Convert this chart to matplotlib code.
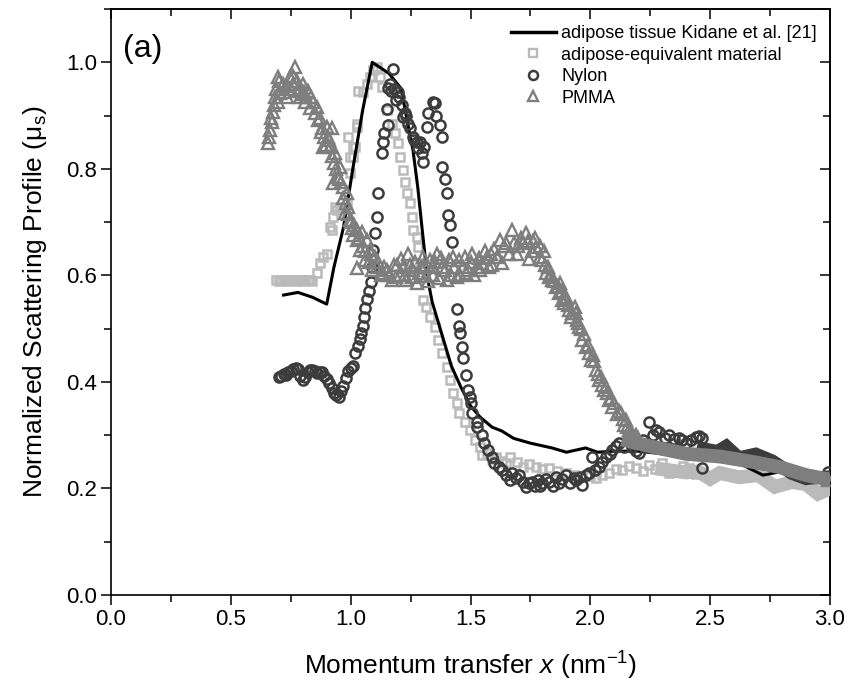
import matplotlib
matplotlib.use("Agg")

import matplotlib.pyplot as plt
from matplotlib.lines import Line2D
from matplotlib.ticker import MultipleLocator, NullFormatter

plt.rcParams["font.family"] = ["Liberation Sans", "DejaVu Sans"]
plt.rcParams["mathtext.fontset"] = "custom"
plt.rcParams["mathtext.rm"] = "Liberation Sans"
plt.rcParams["mathtext.it"] = "Liberation Sans:italic"

# ---------------------------------------------------
# DATA
# ---------------------------------------------------

kidane_x = [0.72, 0.78, 0.84, 0.90, 0.93, 0.97, 1.01, 1.05, 1.09, 1.16,
            1.21, 1.23, 1.26, 1.28, 1.30, 1.32, 1.34, 1.42, 1.46, 1.50,
            1.54, 1.59, 1.63, 1.68, 1.75, 1.84, 1.90, 1.98, 2.03, 2.10,
            2.20, 2.30, 2.40, 2.50, 2.60, 2.72, 2.80, 2.90, 3.00]
kidane_y = [0.563, 0.568, 0.559, 0.546, 0.615, 0.690, 0.803, 0.910, 1.000, 0.979,
            0.951, 0.904, 0.835, 0.765, 0.679, 0.597, 0.550, 0.430, 0.390, 0.355,
            0.334, 0.315, 0.308, 0.294, 0.285, 0.276, 0.268, 0.276, 0.268, 0.270,
            0.270, 0.265, 0.262, 0.258, 0.252, 0.225, 0.232, 0.228, 0.222]

adipose_x = [0.69, 0.70, 0.71, 0.72, 0.73, 0.74, 0.75, 0.76, 0.77, 0.78,
             0.79, 0.80, 0.81, 0.82, 0.83, 0.84, 0.858, 0.871, 0.883, 0.90,
             0.913, 0.921, 0.925, 0.933, 0.942, 0.954, 0.983, 0.988, 0.996, 0.996,
             1.008, 1.008, 1.017, 1.025, 1.025, 1.029, 1.05, 1.067, 1.079, 1.092,
             1.108, 1.121, 1.129, 1.15, 1.171, 1.183, 1.196, 1.204, 1.217, 1.225,
             1.233, 1.246, 1.254, 1.258, 1.275, 1.279, 1.288, 1.296, 1.30, 1.313,
             1.329, 1.35, 1.363, 1.383, 1.40, 1.413, 1.425, 1.442, 1.454, 1.475,
             1.496, 1.517, 1.538, 1.55, 1.567, 1.59, 1.608, 1.63, 1.65, 1.663,
             1.692, 1.717, 1.745, 1.775, 1.80, 1.829, 1.86, 1.90, 1.93, 1.967,
             2.00, 2.025, 2.05, 2.079, 2.105, 2.133, 2.16, 2.192, 2.22, 2.246,
             2.27, 2.30, 2.33, 2.358, 2.385, 2.413, 2.44, 2.467]
adipose_y = [0.591, 0.590, 0.592, 0.591, 0.590, 0.591, 0.592, 0.591, 0.590, 0.591,
             0.592, 0.590, 0.591, 0.591, 0.592, 0.590, 0.604, 0.623, 0.634, 0.641,
             0.690, 0.685, 0.709, 0.728, 0.722, 0.728, 0.735, 0.860, 0.792, 0.822,
             0.822, 0.841, 0.841, 0.878, 0.885, 0.947, 0.944, 0.960, 0.972, 0.985,
             0.991, 0.972, 0.953, 0.910, 0.885, 0.867, 0.848, 0.822, 0.797, 0.775,
             0.754, 0.735, 0.709, 0.685, 0.672, 0.653, 0.623, 0.597, 0.553, 0.540,
             0.522, 0.503, 0.478, 0.454, 0.428, 0.403, 0.379, 0.360, 0.341, 0.325,
             0.310, 0.291, 0.278, 0.262, 0.266, 0.255, 0.259, 0.252, 0.248, 0.259,
             0.250, 0.240, 0.245, 0.240, 0.236, 0.238, 0.232, 0.229, 0.226, 0.221,
             0.224, 0.219, 0.226, 0.229, 0.236, 0.235, 0.242, 0.238, 0.232, 0.244,
             0.236, 0.248, 0.229, 0.235, 0.242, 0.238, 0.228, 0.231]

nylon_x = [0.70, 0.71, 0.72, 0.73, 0.74, 0.75, 0.76, 0.77, 0.78, 0.79,
           0.80, 0.81, 0.82, 0.83, 0.84, 0.85, 0.86, 0.87, 0.88, 0.89,
           0.90, 0.91, 0.92, 0.93, 0.94, 0.95, 0.96, 0.97, 0.98, 0.99,
           1.00, 1.01, 1.02, 1.03, 1.04, 1.045, 1.05, 1.055, 1.06, 1.07,
           1.075, 1.085, 1.09, 1.095, 1.10, 1.108, 1.113, 1.129, 1.133, 1.14,
           1.15, 1.155, 1.155, 1.17, 1.175, 1.19, 1.196, 1.213, 1.217, 1.23,
           1.246, 1.258, 1.275, 1.288, 1.296, 1.30, 1.308, 1.317, 1.321, 1.342,
           1.35, 1.358, 1.371, 1.379, 1.383, 1.392, 1.40, 1.404, 1.413, 1.421,
           1.442, 1.450, 1.458, 1.463, 1.467, 1.483, 1.488, 1.496, 1.504, 1.508,
           1.525, 1.529, 1.546, 1.558, 1.571, 1.588, 1.60, 1.62, 1.633, 1.65,
           1.663, 1.675, 1.69, 1.704, 1.72, 1.733, 1.745, 1.758, 1.77, 1.78,
           1.79, 1.80, 1.815, 1.829, 1.845, 1.858, 1.87, 1.88, 1.90, 1.915,
           1.93, 1.942, 1.955, 1.967, 1.98, 1.996, 2.008, 2.02, 2.038, 2.05,
           2.067, 2.08, 2.092, 2.105, 2.121, 2.142, 2.16, 2.175, 2.19, 2.204,
           2.22, 2.246, 2.26, 2.275, 2.288, 2.31, 2.329, 2.35, 2.37, 2.383,
           2.40, 2.42, 2.442, 2.455, 2.467, 2.467, 2.99, 1.165, 1.18, 1.20,
           1.225, 1.24, 1.265, 1.28]
nylon_y = [0.410, 0.412, 0.415, 0.413, 0.418, 0.420, 0.424, 0.426, 0.425, 0.412,
           0.403, 0.410, 0.418, 0.422, 0.423, 0.420, 0.416, 0.418, 0.419, 0.412,
           0.405, 0.398, 0.388, 0.380, 0.375, 0.372, 0.383, 0.393, 0.408, 0.420,
           0.427, 0.430, 0.455, 0.468, 0.480, 0.492, 0.505, 0.522, 0.538, 0.555,
           0.570, 0.588, 0.615, 0.647, 0.680, 0.709, 0.754, 0.829, 0.850, 0.867,
           0.913, 0.882, 0.951, 0.947, 0.988, 0.930, 0.944, 0.920, 0.897, 0.900,
           0.876, 0.860, 0.850, 0.850, 0.830, 0.812, 0.841, 0.878, 0.904, 0.925,
           0.923, 0.900, 0.882, 0.860, 0.803, 0.780, 0.754, 0.713, 0.694, 0.662,
           0.537, 0.505, 0.492, 0.466, 0.445, 0.413, 0.385, 0.372, 0.360, 0.341,
           0.325, 0.315, 0.300, 0.285, 0.272, 0.259, 0.248, 0.240, 0.235, 0.225,
           0.215, 0.229, 0.220, 0.225, 0.212, 0.203, 0.210, 0.212, 0.205, 0.215,
           0.205, 0.210, 0.218, 0.212, 0.205, 0.221, 0.210, 0.218, 0.225, 0.210,
           0.220, 0.216, 0.222, 0.206, 0.225, 0.229, 0.259, 0.235, 0.240, 0.250,
           0.259, 0.265, 0.272, 0.280, 0.285, 0.278, 0.290, 0.278, 0.270, 0.266,
           0.290, 0.325, 0.300, 0.310, 0.306, 0.295, 0.300, 0.292, 0.295, 0.291,
           0.285, 0.290, 0.296, 0.298, 0.295, 0.238, 0.231, 0.960, 0.950, 0.935,
           0.905, 0.885, 0.855, 0.840]

pmma_x = [0.654, 0.663, 0.671, 0.675, 0.685, 0.696, 0.704, 0.696, 0.717, 0.73,
          0.746, 0.758, 0.767, 0.779, 0.79, 0.80, 0.81, 0.821, 0.842, 0.858,
          0.863, 0.879, 0.883, 0.90, 0.904, 0.913, 0.921, 0.925, 0.933, 0.946,
          0.954, 0.967, 0.975, 0.983, 0.988, 0.996, 1.004, 1.025, 1.025, 1.025,
          1.038, 1.046, 1.058, 1.067, 1.079, 1.10, 1.108, 1.133, 1.15, 1.171,
          1.19, 1.21, 1.225, 1.24, 1.255, 1.27, 1.285, 1.30, 1.315, 1.329,
          1.345, 1.36, 1.383, 1.40, 1.425, 1.442, 1.467, 1.483, 1.508, 1.525,
          1.55, 1.567, 1.579, 1.60, 1.621, 1.633, 1.65, 1.675, 1.692, 1.71,
          1.733, 1.746, 1.76, 1.775, 1.788, 1.80, 1.817, 1.829, 1.842, 1.858,
          1.871, 1.88, 1.883, 1.892, 1.90, 1.913, 1.921, 1.935, 1.946, 1.954,
          1.96, 1.967, 1.983, 1.99, 2.004, 2.01, 2.025, 2.038, 2.045, 2.058,
          2.07, 2.079, 2.092, 2.10, 2.11, 2.129, 2.14, 2.15, 2.163, 2.18,
          2.20, 2.99,
          0.66, 0.668, 0.68, 0.69, 0.70, 0.72, 0.735, 0.75, 0.76, 0.775,
          0.785, 0.795, 0.805, 0.815, 0.83, 0.835, 0.85, 0.87, 0.875, 0.89,
          0.895, 0.91, 0.92, 0.93, 0.94, 0.95, 0.96, 0.97, 0.98, 0.99,
          1.00, 1.01, 1.015, 1.035, 1.05, 1.06, 1.075, 1.085, 1.09, 1.115,
          1.125, 1.14, 1.16, 1.18, 1.195, 1.205, 1.218, 1.232, 1.248, 1.262,
          1.278, 1.292, 1.308, 1.322, 1.338, 1.352, 1.368, 1.375, 1.392, 1.41,
          1.418, 1.433, 1.45, 1.458, 1.475, 1.49, 1.50, 1.515, 1.535, 1.54,
          1.56, 1.585, 1.59, 1.61, 1.64, 1.66, 1.68, 1.70, 1.72, 1.74,
          1.755, 1.77, 1.79, 1.805, 1.81, 1.825, 1.835, 1.85, 1.865, 1.875,
          1.895, 1.905, 1.925, 1.94, 1.95, 1.975, 1.995, 2.015, 2.03, 2.05,
          2.065, 2.085, 2.12, 2.135, 2.155, 2.17, 2.19]
pmma_y = [0.848, 0.872, 0.887, 0.906, 0.935, 0.925, 0.942, 0.972, 0.960, 0.955,
          0.972, 0.960, 0.991, 0.947, 0.935, 0.960, 0.925, 0.947, 0.925, 0.916,
          0.891, 0.876, 0.841, 0.878, 0.860, 0.841, 0.876, 0.773, 0.829, 0.784,
          0.803, 0.765, 0.717, 0.754, 0.728, 0.704, 0.688, 0.685, 0.666, 0.613,
          0.647, 0.681, 0.629, 0.666, 0.647, 0.634, 0.615, 0.604, 0.610, 0.591,
          0.597, 0.630, 0.600, 0.640, 0.596, 0.625, 0.605, 0.635, 0.598, 0.629,
          0.600, 0.640, 0.615, 0.591, 0.634, 0.597, 0.615, 0.604, 0.641, 0.615,
          0.623, 0.634, 0.615, 0.650, 0.666, 0.623, 0.660, 0.685, 0.640, 0.670,
          0.679, 0.630, 0.665, 0.653, 0.634, 0.629, 0.604, 0.597, 0.591, 0.578,
          0.566, 0.570, 0.553, 0.548, 0.560, 0.535, 0.522, 0.540, 0.516, 0.503,
          0.500, 0.478, 0.466, 0.470, 0.441, 0.450, 0.422, 0.403, 0.410, 0.385,
          0.380, 0.366, 0.353, 0.360, 0.340, 0.341, 0.320, 0.328, 0.310, 0.300,
          0.295, 0.215,
          0.860, 0.895, 0.920, 0.950, 0.965, 0.945, 0.935, 0.950, 0.975, 0.965,
          0.950, 0.940, 0.945, 0.935, 0.915, 0.935, 0.905, 0.895, 0.870, 0.860,
          0.845, 0.855, 0.825, 0.810, 0.800, 0.780, 0.775, 0.745, 0.735, 0.715,
          0.700, 0.675, 0.695, 0.670, 0.655, 0.645, 0.625, 0.640, 0.610, 0.625,
          0.600, 0.615, 0.600, 0.620, 0.620, 0.600, 0.615, 0.592, 0.620, 0.610,
          0.585, 0.615, 0.620, 0.590, 0.615, 0.625, 0.595, 0.632, 0.610, 0.628,
          0.600, 0.615, 0.628, 0.600, 0.635, 0.610, 0.625, 0.600, 0.632, 0.610,
          0.645, 0.640, 0.620, 0.635, 0.655, 0.640, 0.660, 0.655, 0.660, 0.665,
          0.645, 0.670, 0.655, 0.645, 0.620, 0.615, 0.600, 0.590, 0.580, 0.585,
          0.555, 0.545, 0.530, 0.530, 0.510, 0.490, 0.455, 0.440, 0.415, 0.395,
          0.390, 0.370, 0.345, 0.330, 0.315, 0.305, 0.300]

# dense high-x parts that merge into solid bands
adipose_band_x = [2.30, 2.40, 2.45, 2.50, 2.54, 2.62, 2.70, 2.77, 2.84, 2.90, 2.95, 3.00]
adipose_band_y = [0.236, 0.230, 0.232, 0.218, 0.229, 0.221, 0.225, 0.203, 0.212, 0.208, 0.190, 0.200]
nylon_band_x = [2.47, 2.53, 2.567, 2.62, 2.69, 2.76, 2.84, 2.90, 2.99]
nylon_band_y = [0.275, 0.270, 0.280, 0.258, 0.265, 0.252, 0.228, 0.218, 0.222]
pmma_band_x = [2.16, 2.26, 2.40, 2.54, 2.675, 2.79, 2.90, 2.98]
pmma_band_y = [0.289, 0.278, 0.265, 0.260, 0.250, 0.240, 0.225, 0.218]

labels = ["adipose tissue Kidane et al. [21]", "adipose-equivalent material",
          "Nylon", "PMMA"]

c_light = "#bababa"
c_dark = "#3c3c3c"
c_mid = "#7e7e7e"

# ---------------------------------------------------
# FIGURE
# ---------------------------------------------------

fig = plt.figure(figsize=(8.48, 6.88), dpi=100)
ax = fig.add_axes([0.1309, 0.1352, 0.8479, 0.8517])

ax.plot(adipose_x, adipose_y, ls="none", marker="s", ms=6.3, mfc="none",
        mec=c_light, mew=1.8, zorder=3)
ax.plot(adipose_band_x, adipose_band_y, color=c_light, lw=10,
        solid_joinstyle="miter", zorder=3.1)
ax.plot(kidane_x, kidane_y, color="black", lw=2.2, zorder=3.2)
ax.plot(nylon_x, nylon_y, ls="none", marker="o", ms=7.3, mfc="none",
        mec=c_dark, mew=1.8, zorder=4)
ax.plot(nylon_band_x, nylon_band_y, color=c_dark, lw=9,
        solid_joinstyle="miter", zorder=4.1)
ax.plot(pmma_x, pmma_y, ls="none", marker="^", ms=8.3, mfc="none",
        mec=c_mid, mew=1.7, zorder=5)
ax.plot(pmma_band_x, pmma_band_y, color=c_mid, lw=10,
        solid_joinstyle="miter", zorder=5.1)

ax.set_xlim(0, 3.0)
ax.set_ylim(0, 1.1)

ax.xaxis.set_major_locator(MultipleLocator(0.5))
ax.xaxis.set_minor_locator(MultipleLocator(0.25))
ax.yaxis.set_major_locator(MultipleLocator(0.2))
ax.yaxis.set_minor_locator(MultipleLocator(0.1))
ax.tick_params(which="both", direction="out", width=1.1, labelsize=16, pad=3)
ax.tick_params(which="major", length=7)
ax.tick_params(which="minor", length=5)

# mirrored ticks pointing inwards on top and right
top = ax.secondary_xaxis("top")
top.xaxis.set_major_locator(MultipleLocator(0.5))
top.xaxis.set_minor_locator(MultipleLocator(0.25))
top.xaxis.set_major_formatter(NullFormatter())
top.tick_params(which="both", direction="in", width=1.1)
top.tick_params(which="major", length=7)
top.tick_params(which="minor", length=5)
right = ax.secondary_yaxis("right")
right.yaxis.set_major_locator(MultipleLocator(0.2))
right.yaxis.set_minor_locator(MultipleLocator(0.1))
right.yaxis.set_major_formatter(NullFormatter())
right.tick_params(which="both", direction="in", width=1.1)
right.tick_params(which="major", length=7)
right.tick_params(which="minor", length=5)

for sp in list(ax.spines.values()) + [top.spines["top"], right.spines["right"]]:
    sp.set_linewidth(1.2)

ax.set_xlabel("Momentum transfer $x$ (nm$^{-1}$)", fontsize=19, labelpad=14)
ax.set_ylabel("Normalized Scattering Profile (μ$_{\\rm s}$)", fontsize=19,
              labelpad=12)

ax.text(0.016, 0.958, "(a)", transform=ax.transAxes, fontsize=23,
        ha="left", va="top")

handles = [
    Line2D([], [], color="black", lw=2.5),
    Line2D([], [], ls="none", marker="s", ms=6, mfc="none", mec=c_light, mew=1.7),
    Line2D([], [], ls="none", marker="o", ms=6.5, mfc="none", mec=c_dark, mew=1.8),
    Line2D([], [], ls="none", marker="^", ms=7, mfc="none", mec=c_mid, mew=1.7),
]
ax.legend(handles, labels, loc="upper right", frameon=False, fontsize=13,
          handlelength=2.5, handletextpad=0.3, labelspacing=0.25,
          borderaxespad=0.0, bbox_to_anchor=(0.992, 0.985))

fig.savefig("out.png", dpi=100)
plt.close(fig)
